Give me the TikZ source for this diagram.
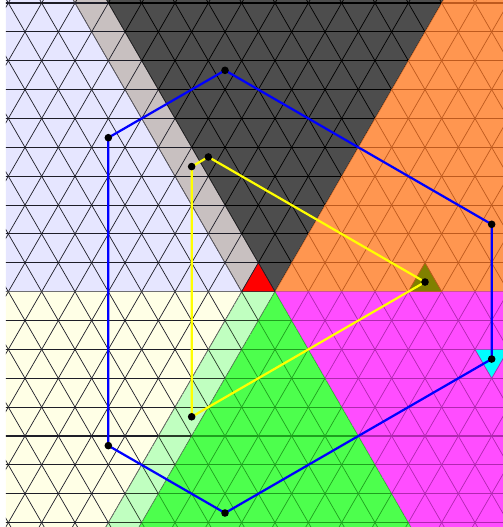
\documentclass[tikz,border=0pt]{standalone}
\usepackage{xcolor}
\usepackage{tikz}

% --- Sector colours ---
\definecolor{secLavender}{RGB}{230,230,255}
\definecolor{secStrip}{RGB}{200,192,192}
\definecolor{secDark}{RGB}{77,77,77}
\definecolor{secOrange}{RGB}{255,150,80}
\definecolor{secMagenta}{RGB}{255,77,255}
\definecolor{secGreen}{RGB}{77,255,77}
\definecolor{secPale}{RGB}{192,255,192}
\definecolor{secCream}{RGB}{255,255,230}
\definecolor{lnLight}{RGB}{30,30,40}
\definecolor{lnOrange}{RGB}{190,90,30}
\definecolor{lnMagenta}{RGB}{176,40,176}
\definecolor{lnGreen}{RGB}{30,160,30}
\definecolor{lnPale}{RGB}{40,60,40}
% --- Marks and routes ---
\definecolor{markRed}{RGB}{255,0,0}
\definecolor{markOlive}{RGB}{128,128,0}
\definecolor{markCyan}{RGB}{0,255,255}
\definecolor{routeBlue}{RGB}{0,0,255}
\definecolor{routeYellow}{RGB}{255,255,0}

% triangular grid, drawn inside the current clip
\newcommand{\trigrid}[1]{%
  \foreach \k in {-9,...,11}
    \draw[hline, #1] (-9,\k*0.8660254) -- (9,\k*0.8660254);
  \foreach \n in {-14,...,13} {
    \draw[gridline, #1] (\n-5,-9.526) -- (\n+6,9.526);
    \draw[gridline, #1] (\n+6,-9.526) -- (\n-5,9.526);
  }}

% one coloured sector with its own grid
\newcommand{\sector}[3]{%
  \begin{scope}
    \clip #3;
    \fill[#1] (-9,-9) rectangle (9,10);
    \trigrid{#2}
  \end{scope}}

\begin{document}
\begin{tikzpicture}[
    x=1cm, y=1cm,
    gridline/.style={line width=0.6pt},
    hline/.style={line width=0.9pt},
    marked/.style={line width=0.5pt},
    route/.style={line width=1.9pt, line join=round},
    dot/.style={circle, fill=black, inner sep=0pt, minimum size=6.5pt},
]

\useasboundingbox (-7.75,-7.06) rectangle (7.34,8.75);

\begin{scope}
  \clip (-7.57,-7.2) rectangle (7.5,8.9);

  % --- Upper sectors ---
  \sector{secLavender}{lnLight}{(-0.5,0) -- (-6.5,10.392) -- (-12,10.392) -- (-12,0) -- cycle}
  \sector{secStrip}{lnLight}{(-0.5,0) -- (-6.5,10.392) -- (-5.5,10.392) -- (0.5,0) -- cycle}
  \sector{secDark}{black}{(0.5,0) -- (-5.5,10.392) -- (6.5,10.392) -- cycle}
  \sector{secOrange}{lnOrange}{(0.5,0) -- (6.5,10.392) -- (12,10.392) -- (12,0) -- cycle}

  % --- Lower sectors ---
  \sector{secMagenta}{lnMagenta}{(0.5,0) -- (12,0) -- (12,-10.392) -- (6.5,-10.392) -- cycle}
  \sector{secGreen}{lnGreen}{(0.5,0) -- (6.5,-10.392) -- (-5.5,-10.392) -- cycle}
  \sector{secPale}{lnPale}{(0.5,0) -- (-5.5,-10.392) -- (-6.5,-10.392) -- (-0.5,0) -- cycle}
  \sector{secCream}{lnLight}{(-0.5,0) -- (-6.5,-10.392) -- (-12,-10.392) -- (-12,0) -- cycle}

  % --- Marked triangles ---
  \filldraw[marked, fill=markRed, draw=lnLight] (-0.5,0) -- (0.5,0) -- (0,0.866) -- cycle;
  \filldraw[marked, fill=markOlive, draw=lnOrange] (4.5,0) -- (5.5,0) -- (5,0.866) -- cycle;
  \filldraw[marked, fill=markCyan, draw=lnMagenta] (6.5,-1.732) -- (7.5,-1.732) -- (7,-2.598) -- cycle;
\end{scope}

% --- Blue ring ---
\coordinate (b1) at (-1,6.640);
\coordinate (b2) at (7,2.021);
\coordinate (b3) at (7,-2.021);
\coordinate (b4) at (-1,-6.640);
\coordinate (b5) at (-4.5,-4.619);
\coordinate (b6) at (-4.5,4.619);
\draw[route, routeBlue] (b1) -- (b2) -- (b3) -- (b4) -- (b5) -- (b6) -- cycle;

% --- Yellow loop ---
\coordinate (y1) at (-2,3.753);
\coordinate (y2) at (-1.5,4.041);
\coordinate (y3) at (5,0.289);
\coordinate (y4) at (-2,-3.753);
\draw[route, routeYellow] (y1) -- (y2) -- (y3) -- (y4) -- cycle;

% --- Dots ---
\foreach \p in {b1,b2,b3,b4,b5,b6,y1,y2,y3,y4}
  \node[dot] (dot-\p) at (\p) {};

\end{tikzpicture}
\end{document}
